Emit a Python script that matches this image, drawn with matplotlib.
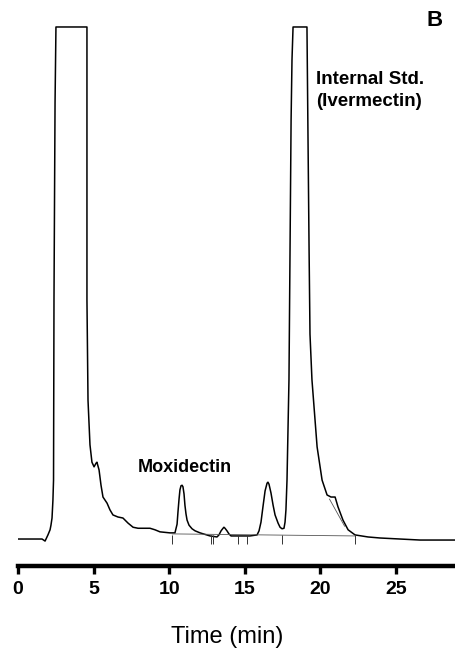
import matplotlib
matplotlib.use("Agg")
import matplotlib.pyplot as plt

# Chromatogram trace (time in min, response as % of clipped full scale)
time_min = [0.00, 1.59, 1.79, 1.98, 2.12, 2.18, 2.25, 2.31, 2.35, 2.38, 2.45, 2.51, 4.56, 4.56,
            4.63, 4.76, 4.89, 5.03, 5.16, 5.22, 5.36, 5.49, 5.62, 5.89, 6.08, 6.28, 6.61, 6.94,
            7.28, 7.61, 7.94, 8.40, 8.73, 9.06, 9.39, 10.05, 10.38, 10.52, 10.58, 10.65, 10.71,
            10.78, 10.85, 10.91, 10.98, 11.04, 11.11, 11.18, 11.31, 11.51, 11.71, 12.04, 12.70,
            13.16, 13.29, 13.43, 13.56, 13.62, 13.69, 13.82, 13.95, 14.09, 14.68, 15.34, 15.81,
            15.94, 16.07, 16.20, 16.34, 16.47, 16.53, 16.60, 16.73, 16.87, 17.00, 17.20, 17.33,
            17.46, 17.59, 17.66, 17.72, 17.79, 17.92, 17.99, 18.06, 18.12, 18.19, 19.11, 19.18,
            19.25, 19.31, 19.44, 19.78, 20.11, 20.44, 20.70, 20.97, 21.16, 21.49, 21.83, 22.29,
            23.15, 23.94, 25.26, 26.59, 28.90]
response = [0.0, 0.0, -0.4, 0.8, 1.8, 2.7, 4.1, 7.6, 11.5, 46.7, 85.2, 100, 100, 46.7,
            27.1, 18.4, 15.0, 14.1, 14.8, 15.0, 13.5, 10.5, 8.2, 7.0, 5.7, 4.7, 4.3, 4.1,
            3.1, 2.3, 2.1, 2.1, 2.1, 1.8, 1.4, 1.2, 1.2, 2.9, 5.3, 7.8, 9.6,
            10.4, 10.5, 10.2, 8.8, 6.6, 4.9, 3.7, 2.7, 2.0, 1.6, 1.2, 0.6,
            0.4, 0.8, 1.6, 2.1, 2.3, 2.1, 1.6, 1.0, 0.6, 0.6, 0.6, 0.8,
            1.6, 3.3, 6.3, 9.4, 10.9, 11.1, 10.7, 9.0, 6.6, 4.7, 3.1, 2.3,
            2.0, 2.1, 3.3, 5.7, 11.5, 31.1, 56.4, 81.8, 93.6, 100, 100, 78.0,
            56.4, 40.0, 31.1, 18.0, 11.5, 8.6, 8.2, 8.2, 6.3, 3.7, 1.8, 0.8,
            0.4, 0.2, 0.0, -0.2, -0.2]

# Integration baseline and shoulder skim line
base_t = [10.20, 22.30]
base_r = [1.0, 0.6]
skim_t = [20.60, 21.60]
skim_r = [7.8, 2.5]

# Integration event markers
event_t = [10.19, 12.76, 12.90, 14.55, 15.15, 17.46, 22.29]

xticks = [0, 5, 10, 15, 20, 25]

fig = plt.figure(figsize=(4.55, 6.5), dpi=100)
ax = fig.add_axes([18/455, 84/650, 1 - 18/455, 566/650])
ax.plot(time_min, response, color="black", lw=1.1, solid_joinstyle="round")
ax.plot(base_t, base_r, color="#555555", lw=0.6)
ax.plot(skim_t, skim_r, color="#555555", lw=0.6)
ax.vlines(event_t, -0.9, 0.7, color="#333333", lw=0.7)

ax.set_xlim(0, 28.9)
ax.set_ylim(-5.27, 105.27)
for s in ["top", "right", "left"]:
    ax.spines[s].set_visible(False)
ax.spines["bottom"].set_linewidth(3.2)
ax.set_yticks([])
ax.set_xticks(xticks)
ax.set_xticklabels([str(v) for v in xticks], fontfamily="Liberation Sans",
                   fontweight="bold", fontsize=14)
ax.tick_params(axis="x", length=6, width=2.4, pad=5, direction="out")

fig.text(227/455, 1 - 637/650, "Time (min)", ha="center", va="center",
         fontfamily="Liberation Sans", fontsize=17)
fig.text(138/455, 1 - 467/650, "Moxidectin", ha="left", va="center",
         fontfamily="Liberation Sans", fontweight="bold", fontsize=13)
fig.text(316/455, 1 - 80/650, "Internal Std.", ha="left", va="center",
         fontfamily="Liberation Sans", fontweight="bold", fontsize=13.5)
fig.text(316/455, 1 - 101/650, "(Ivermectin)", ha="left", va="center",
         fontfamily="Liberation Sans", fontweight="bold", fontsize=13.5)
fig.text(435/455, 1 - 20/650, "B", ha="center", va="center",
         fontfamily="Liberation Sans", fontweight="bold", fontsize=16)

fig.savefig("out.png", dpi=100)
